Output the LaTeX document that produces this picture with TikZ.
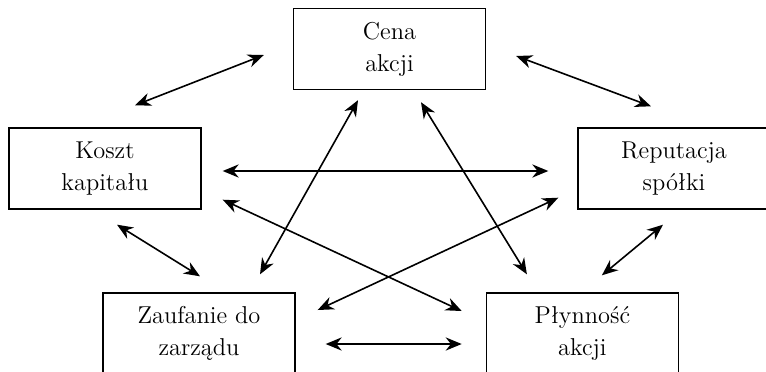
\documentclass[tikz,border=0pt]{standalone}
\usepackage{fontspec}
\usepackage{tikz}
\usetikzlibrary{arrows.meta,positioning,calc}
\tikzset{
  >={Stealth[length=8pt,width=6.6pt,inset=2.6pt]},
  factor/.style={
    draw,line width=0.7pt,minimum width=96pt,minimum height=40.5pt,
    inner sep=0pt,align=center,font=\fontsize{12.2}{16}\selectfont
  },
  link/.style={<->,line width=0.8pt}
}

\begin{document}
\begin{tikzpicture}[x=0.5pt,y=-0.5pt]
  \useasboundingbox (0,0) rectangle (766,371);
  % the five factors
  \node[factor] (cena) at (389.5,49) {Cena\\akcji};
  \node[factor] (koszt) at (105,168.5) {Koszt\\kapitału};
  \node[factor] (rep) at (674,168.5) {Reputacja\\spółki};
  \node[factor] (zauf) at (199,333.5) {Zaufanie do\\zarządu};
  \node[factor,right=95pt of zauf] (plyn) {Płynność\\akcji};
  % links between them
  \draw[link] ($(cena.west)+(-29,6)$) -- ($(koszt.north)+(30,-22)$);
  \draw[link] ($(cena.east)+(30,7)$) -- ($(rep.north)+(-23,-21)$);
  \draw[link] ($(koszt.east)+(21,2.5)$) -- ($(rep.west)+(-29,2.5)$);
  \draw[link] ($(cena.south)+(-31.5,10)$) -- ($(zauf.north)+(61,-18)$);
  \draw[link] ($(cena.south)+(31.5,12)$) -- ($(plyn.north)+(-55.5,-18)$);
  \draw[link] ($(koszt.south east)+(21,-10)$) -- ($(plyn.west)+(-24,-22.5)$);
  \draw[link] ($(zauf.east)+(22,-23.5)$) -- ($(rep.south west)+(-19,-12)$);
  \draw[link] ($(zauf.east)+(30,10.5)$) -- ($(plyn.west)+(-24,10.5)$);
  \draw[link] ($(koszt.south)+(12,15)$) -- ($(zauf.north)+(1,-16)$);
  \draw[link] ($(rep.south)+(-11,15)$) -- ($(plyn.north)+(19.5,-17)$);
\end{tikzpicture}
\end{document}
